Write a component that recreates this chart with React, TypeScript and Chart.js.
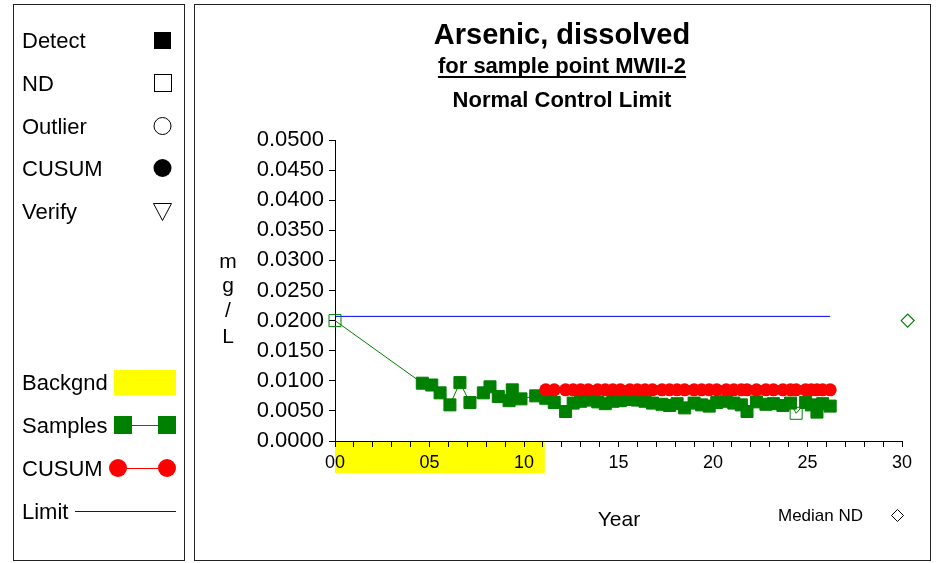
import React, { useEffect, useRef } from 'react';
import { Chart, registerables } from 'chart.js';

Chart.register(...registerables);

// ---- Data ----
const sampleYears = [
  0, 4.62, 5.12, 5.56, 6.08, 6.61, 7.14, 7.85, 8.2, 8.64, 9.21, 9.38, 9.84, 10.62,
  11.15, 11.6, 12.2, 12.6, 13.0, 13.4, 13.9, 14.3, 14.7, 15.1, 15.6, 16.0, 16.4, 16.8,
  17.3, 17.7, 18.1, 18.5, 19.0, 19.4, 19.8, 20.2, 20.7, 21.1, 21.5, 21.8, 22.3, 22.8,
  23.2, 23.7, 24.1, 24.4, 24.9, 25.2, 25.5, 25.8, 26.2,
];
const sampleValues = [
  0.02, 0.0096, 0.0093, 0.008, 0.006, 0.0097, 0.0064, 0.008, 0.009, 0.0074, 0.0067, 0.0085, 0.007, 0.0075,
  0.0071, 0.0064, 0.0049, 0.0063, 0.0066, 0.0068, 0.0065, 0.0062, 0.0066, 0.0067, 0.0069, 0.0068, 0.0066, 0.0063,
  0.0061, 0.0059, 0.0062, 0.0055, 0.0063, 0.006, 0.0058, 0.0064, 0.0066, 0.0063, 0.006, 0.0049, 0.0065, 0.0061,
  0.0062, 0.0059, 0.0063, 0.0046, 0.0064, 0.006, 0.0048, 0.0062, 0.0058,
];
const sampleNonDetectYears = [0, 24.4];

const cusumYears = [
  11.15, 11.6, 12.2, 12.6, 13.0, 13.4, 13.9, 14.3, 14.7, 15.1, 15.6, 16.0, 16.4, 16.8,
  17.3, 17.7, 18.1, 18.5, 19.0, 19.4, 19.8, 20.2, 20.7, 21.1, 21.5, 21.8, 22.3, 22.8,
  23.2, 23.7, 24.1, 24.4, 24.9, 25.2, 25.5, 25.8, 26.2,
];
const cusumValues = [
  0.0085, 0.0085, 0.0085, 0.0085, 0.0085, 0.0085, 0.0085, 0.0085, 0.0085, 0.0085, 0.0085, 0.0085, 0.0085, 0.0085,
  0.0085, 0.0085, 0.0085, 0.0085, 0.0085, 0.0085, 0.0085, 0.0085, 0.0085, 0.0085, 0.0085, 0.0085, 0.0085, 0.0085,
  0.0085, 0.0085, 0.0085, 0.0085, 0.0085, 0.0085, 0.0085, 0.0085, 0.0085,
];

const limitYears = [0, 26.2];
const limitValues = [0.0207, 0.0207];

const medianNDYears = [30.3];
const medianNDValues = [0.02];

const backgroundYears = [0, 11.1];

const titleText = 'Arsenic, dissolved';
const subtitleText = 'for sample point MWII-2';
const limitTypeText = 'Normal Control Limit';
const xAxisTitle = 'Year';
const yAxisTitleChars = ['m', 'g', '/', 'L'];
const legendTopItems = ['Detect', 'ND', 'Outlier', 'CUSUM', 'Verify'];
const legendBottomItems = ['Backgnd', 'Samples', 'CUSUM', 'Limit'];

const FONT = '"Liberation Sans", Arial, sans-serif';
const GREEN = '#008000';
const RED = '#ff0000';
const BLUE = '#0000ff';
const YELLOW = '#ffff00';

function pts(xs: number[], ys: number[]) {
  return xs.map((x, i) => ({ x, y: ys[i] }));
}

const decorPlugin = {
  id: 'decor',
  beforeDraw(chart: any) {
    const ctx = chart.ctx;
    const xs = chart.scales.x;
    const area = chart.chartArea;
    ctx.save();
    ctx.fillStyle = '#ffffff';
    ctx.fillRect(0, 0, chart.width, chart.height);
    // yellow background band under axis
    const x0 = xs.getPixelForValue(backgroundYears[0]);
    const x1 = xs.getPixelForValue(backgroundYears[1]);
    ctx.fillStyle = YELLOW;
    ctx.fillRect(x0, area.bottom + 1, x1 - x0, 31);
    // frames
    ctx.strokeStyle = '#222222';
    ctx.lineWidth = 1;
    ctx.strokeRect(13.5, 4.5, 171, 556);
    ctx.strokeRect(194.5, 4.5, 736, 556);
    ctx.restore();
  },
  afterDraw(chart: any) {
    const ctx = chart.ctx;
    ctx.save();
    ctx.fillStyle = '#000';
    ctx.textBaseline = 'middle';
    // titles
    ctx.textAlign = 'center';
    ctx.font = `bold 29px ${FONT}`;
    ctx.fillText(titleText, 562, 36);
    ctx.font = `bold 22px ${FONT}`;
    ctx.fillText(subtitleText, 562, 67);
    const w = ctx.measureText(subtitleText).width;
    ctx.fillRect(562 - w / 2, 76, w, 2);
    ctx.fillText(limitTypeText, 562, 101);
    // y axis title
    ctx.font = `21px ${FONT}`;
    const yPos = [262, 286, 311, 337];
    yAxisTitleChars.forEach((c, i) => ctx.fillText(c, 228, yPos[i]));
    // x title
    ctx.font = `21px ${FONT}`;
    ctx.fillText(xAxisTitle, 619, 520);
    // Median ND
    ctx.textAlign = 'left';
    ctx.font = `17px ${FONT}`;
    ctx.fillText('Median ND', 778, 516);
    ctx.strokeStyle = '#000';
    ctx.lineWidth = 1;
    ctx.beginPath();
    ctx.moveTo(897.5, 509.5);
    ctx.lineTo(903.5, 515.5);
    ctx.lineTo(897.5, 521.5);
    ctx.lineTo(891.5, 515.5);
    ctx.closePath();
    ctx.stroke();

    // legend panel
    ctx.font = `22px ${FONT}`;
    ctx.textAlign = 'left';
    const topY = [42, 85, 128, 170, 213];
    legendTopItems.forEach((t, i) => ctx.fillText(t, 22, topY[i]));
    // symbols
    ctx.fillStyle = '#000';
    ctx.fillRect(154, 32, 17, 17);
    ctx.strokeRect(154.5, 74.5, 17, 17);
    ctx.beginPath();
    ctx.arc(162.5, 126, 8.5, 0, Math.PI * 2);
    ctx.stroke();
    ctx.beginPath();
    ctx.arc(162.5, 168, 9, 0, Math.PI * 2);
    ctx.fill();
    ctx.beginPath();
    ctx.moveTo(153.5, 203.5);
    ctx.lineTo(171.5, 203.5);
    ctx.lineTo(162.5, 220.5);
    ctx.closePath();
    ctx.stroke();

    const botY = [384, 427, 470, 513];
    legendBottomItems.forEach((t, i) => ctx.fillText(t, 22, botY[i]));
    ctx.fillStyle = YELLOW;
    ctx.fillRect(114, 370, 62, 25);
    // samples
    ctx.strokeStyle = GREEN;
    ctx.beginPath();
    ctx.moveTo(122, 425.5);
    ctx.lineTo(167, 425.5);
    ctx.stroke();
    ctx.fillStyle = GREEN;
    ctx.fillRect(114, 416, 18, 18);
    ctx.fillRect(158, 416, 18, 18);
    // cusum
    ctx.strokeStyle = RED;
    ctx.beginPath();
    ctx.moveTo(118, 468.5);
    ctx.lineTo(167, 468.5);
    ctx.stroke();
    ctx.fillStyle = RED;
    ctx.beginPath();
    ctx.arc(118, 468, 9, 0, Math.PI * 2);
    ctx.fill();
    ctx.beginPath();
    ctx.arc(167, 468, 9, 0, Math.PI * 2);
    ctx.fill();
    // limit
    ctx.strokeStyle = BLUE;
    ctx.beginPath();
    ctx.moveTo(75, 511.5);
    ctx.lineTo(176, 511.5);
    ctx.stroke();
    ctx.restore();
  },
};

export default function App() {
  const ref = useRef<HTMLCanvasElement | null>(null);

  useEffect(() => {
    if (!ref.current) return;
    const ndSet = new Set(sampleNonDetectYears);
    const chart = new Chart(ref.current, {
      type: 'scatter',
      data: {
        datasets: [
          {
            label: 'CUSUM',
            data: pts(cusumYears, cusumValues),
            showLine: true,
            borderColor: RED,
            borderWidth: 1,
            backgroundColor: RED,
            pointBackgroundColor: RED,
            pointBorderColor: RED,
            pointBorderWidth: 0,
            pointRadius: 6.5,
            pointStyle: 'circle',
            order: 0,
            clip: false,
          },
          {
            label: 'Samples',
            data: pts(sampleYears, sampleValues),
            showLine: true,
            borderColor: GREEN,
            borderWidth: 1,
            pointStyle: 'rect',
            pointRadius: 8.5,
            pointBorderWidth: 1,
            pointBorderColor: GREEN,
            pointBackgroundColor: (c: any) =>
              ndSet.has(sampleYears[c.dataIndex]) ? 'rgba(0,0,0,0)' : GREEN,
            order: 1,
            clip: false,
          },
          {
            label: 'Limit',
            data: pts(limitYears, limitValues),
            showLine: true,
            borderColor: BLUE,
            borderWidth: 1,
            pointRadius: 0,
            order: 2,
            clip: false,
          },
          {
            label: 'Median ND',
            data: pts(medianNDYears, medianNDValues),
            showLine: false,
            pointStyle: 'rectRot',
            pointRadius: 6.5,
            pointBorderWidth: 1.2,
            pointBorderColor: GREEN,
            pointBackgroundColor: 'rgba(0,0,0,0)',
            order: 3,
            clip: false,
          },
        ],
      },
      options: {
        responsive: false,
        animation: false,
        devicePixelRatio: 1,
        layout: { padding: { left: 235, top: 140, right: 38, bottom: 62 } },
        plugins: {
          legend: { display: false },
          tooltip: { enabled: false },
          title: { display: false },
        },
        scales: {
          x: {
            type: 'linear',
            min: 0,
            max: 30,
            afterFit: (s: any) => {
              s.height = 60;
            },
            grid: {
              display: true,
              drawOnChartArea: false,
              drawTicks: true,
              tickLength: 6,
              color: '#000',
            },
            border: { display: true, color: '#000', width: 1 },
            ticks: {
              stepSize: 1,
              autoSkip: false,
              maxRotation: 0,
              padding: 5,
              color: '#000',
              font: { family: FONT, size: 18 },
              callback: (v: any) => (Number(v) % 5 === 0 ? String(v).padStart(2, '0') : ''),
            },
          },
          y: {
            type: 'linear',
            min: 0,
            max: 0.05,
            afterFit: (s: any) => {
              s.width = 100;
            },
            grid: {
              display: true,
              drawOnChartArea: false,
              drawTicks: true,
              tickLength: 6,
              color: '#000',
            },
            border: { display: true, color: '#000', width: 1 },
            ticks: {
              stepSize: 0.005,
              padding: 5,
              color: '#000',
              font: { family: FONT, size: 22 },
              callback: (v: any) => Number(v).toFixed(4),
            },
          },
        },
      },
      plugins: [decorPlugin],
    } as any);
    return () => chart.destroy();
  }, []);

  return (
    <div style={{ position: 'absolute', left: 0, top: 0, width: 940, height: 563 }}>
      <canvas ref={ref} width={940} height={563} style={{ display: 'block', width: 940, height: 563 }} />
    </div>
  );
}
